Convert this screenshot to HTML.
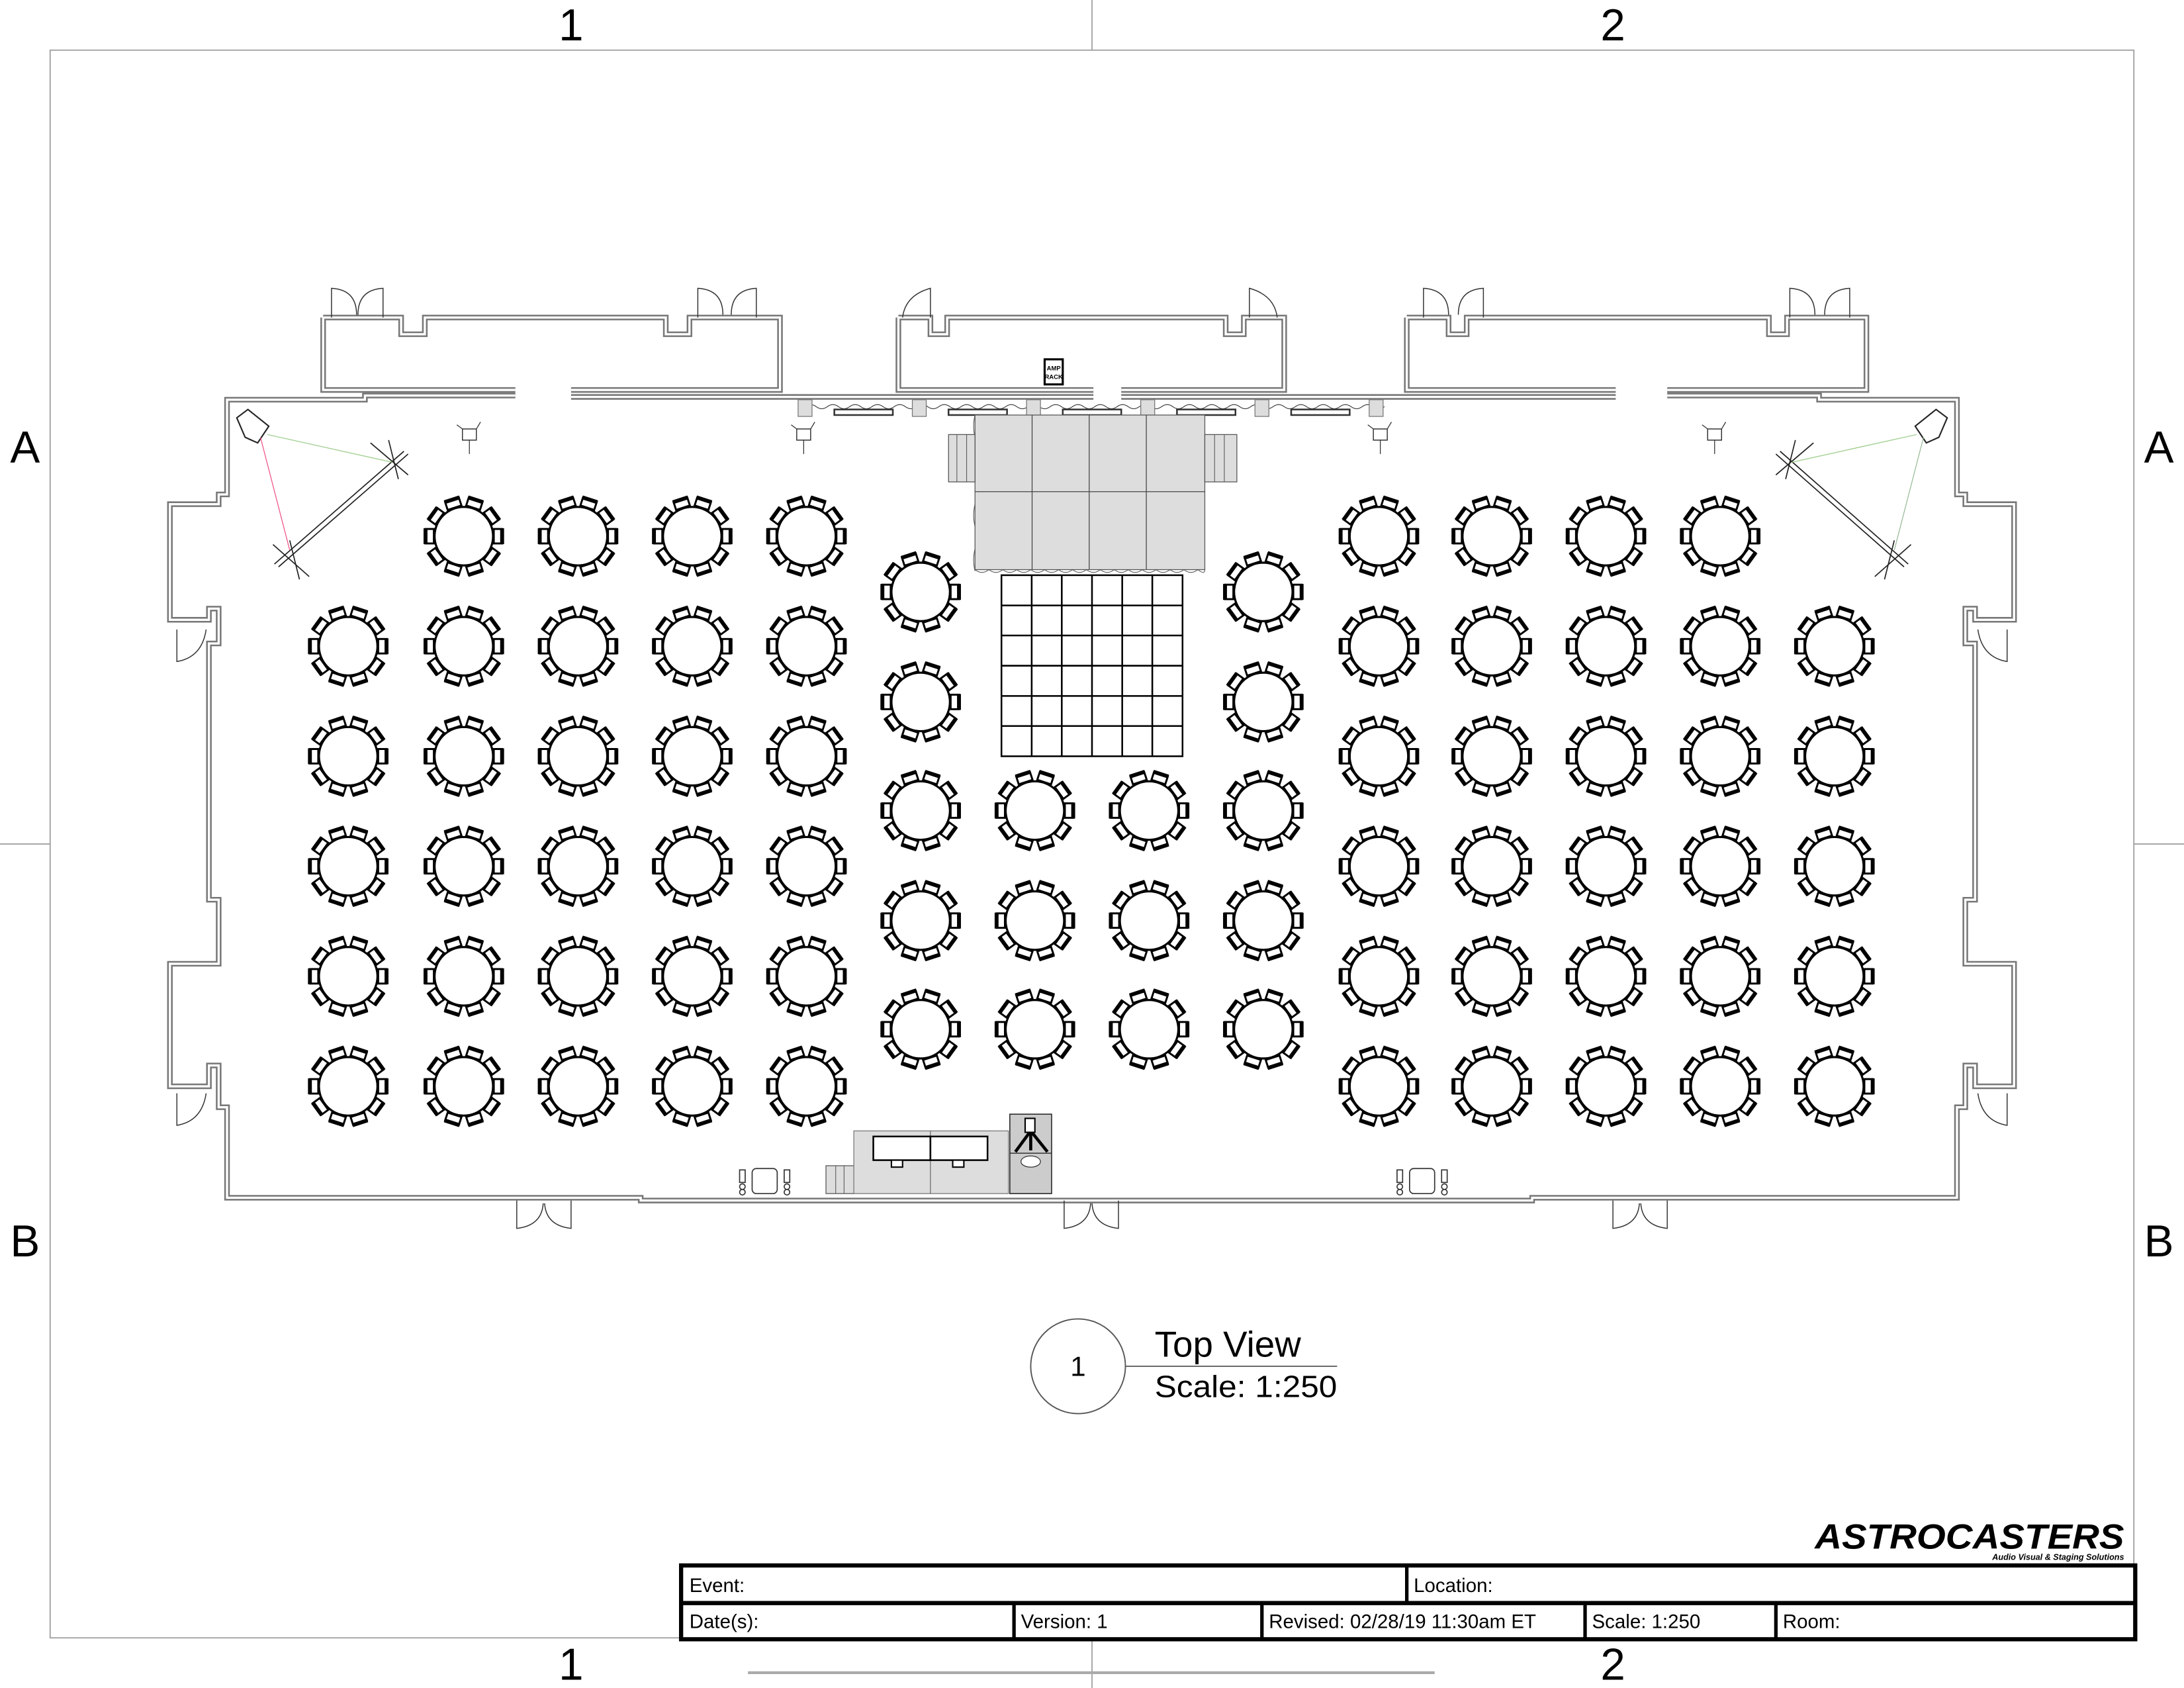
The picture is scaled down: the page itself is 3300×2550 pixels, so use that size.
<!DOCTYPE html>
<html><head><meta charset="utf-8"><style>
html,body{margin:0;padding:0;background:#fff}
svg{display:block}
text{font-family:"Liberation Sans",sans-serif}
</style></head><body>
<svg width="3300" height="2550" viewBox="0 0 1568 1212" preserveAspectRatio="none" xmlns="http://www.w3.org/2000/svg">
<defs>
<g id="ch"><rect x="21.5" y="-5.2" width="6" height="10.4" fill="#fff" stroke="#000" stroke-width="1.4"/><line x1="27.5" y1="-5.7" x2="27.5" y2="5.7" stroke="#000" stroke-width="2.8"/></g>
<g id="t">
<use href="#ch" transform="rotate(0)"/><use href="#ch" transform="rotate(36)"/><use href="#ch" transform="rotate(72)"/><use href="#ch" transform="rotate(108)"/><use href="#ch" transform="rotate(144)"/><use href="#ch" transform="rotate(180)"/><use href="#ch" transform="rotate(216)"/><use href="#ch" transform="rotate(252)"/><use href="#ch" transform="rotate(288)"/><use href="#ch" transform="rotate(324)"/>
<circle r="21" fill="#fff" stroke="#000" stroke-width="1.5"/>
</g>
<g id="light"><path d="M-5,-4 L5,-4 L5,4 L-5,4 Z" fill="#fff" stroke="#333" stroke-width="0.7"/><line x1="0" y1="4" x2="0" y2="14" stroke="#333" stroke-width="0.6"/><line x1="-5" y1="-4" x2="-9" y2="-7" stroke="#333" stroke-width="0.6"/><line x1="5" y1="-4" x2="8" y2="-9" stroke="#333" stroke-width="0.6"/></g>
</defs>

<rect x="36" y="36" width="1496" height="1140" fill="none" stroke="#999" stroke-width="0.8"/>
<g stroke="#999" stroke-width="0.8">
<line x1="784" y1="0" x2="784" y2="36"/><line x1="784" y1="1176" x2="784" y2="1212"/>
<line x1="0" y1="606" x2="36" y2="606"/><line x1="1532" y1="606" x2="1568" y2="606"/>
</g>
<line x1="537" y1="1201" x2="1030" y2="1201" stroke="#aaa" stroke-width="2"/>
<g font-size="32" text-anchor="middle" fill="#000">
<text x="410" y="29">1</text><text x="1158" y="29">2</text>
<text x="410" y="1206">1</text><text x="1158" y="1206">2</text>
<text x="18" y="332">A</text><text x="1550" y="332">A</text>
<text x="18" y="902">B</text><text x="1550" y="902">B</text>
</g>

<g fill="none" stroke-linejoin="miter">
<g stroke="#777" stroke-width="4">
<path d="M370,284 L262,284 L262,287 L163,287 L163,355 L157,355 L157,362 L122,362 L122,445 L150,445 L150,437 L157,437 L157,462 L150,462 L150,646 L157,646 L157,692 L122,692 L122,780 L150,780 L150,765 L157,765 L157,795 L163,795 L163,860 L460,860 L460,862 L1100,862 L1100,860 L1405,860 L1405,795 L1411,795 L1411,765 L1418,765 L1418,780 L1446,780 L1446,692 L1411,692 L1411,646 L1418,646 L1418,462 L1411,462 L1411,437 L1418,437 L1418,445 L1446,445 L1446,362 L1411,362 L1411,355 L1405,355 L1405,287 L1306,287 L1306,284 L1197,284"/>
<path d="M410,285 L785,285 M805,285 L1160,285"/>
<path d="M232,228 L288,228 L288,240 L305,240 L305,228 L478,228 L478,240 L495,240 L495,228 L560,228 L560,280 L410,280 M370,280 L232,280 L232,228"/>
<path d="M645,228 L668,228 L668,240 L680,240 L680,228 L880,228 L880,240 L893,240 L893,228 L922,228 L922,280 L805,280 M785,280 L645,280 L645,228"/>
<path d="M1010,228 L1040,228 L1040,240 L1053,240 L1053,228 L1270,228 L1270,240 L1283,240 L1283,228 L1340,228 L1340,280 L1197,280 M1160,280 L1010,280 L1010,228"/>
</g>
<g stroke="#fff" stroke-width="1.6">
<path d="M370,284 L262,284 L262,287 L163,287 L163,355 L157,355 L157,362 L122,362 L122,445 L150,445 L150,437 L157,437 L157,462 L150,462 L150,646 L157,646 L157,692 L122,692 L122,780 L150,780 L150,765 L157,765 L157,795 L163,795 L163,860 L460,860 L460,862 L1100,862 L1100,860 L1405,860 L1405,795 L1411,795 L1411,765 L1418,765 L1418,780 L1446,780 L1446,692 L1411,692 L1411,646 L1418,646 L1418,462 L1411,462 L1411,437 L1418,437 L1418,445 L1446,445 L1446,362 L1411,362 L1411,355 L1405,355 L1405,287 L1306,287 L1306,284 L1197,284"/>
<path d="M410,285 L785,285 M805,285 L1160,285"/>
<path d="M232,228 L288,228 L288,240 L305,240 L305,228 L478,228 L478,240 L495,240 L495,228 L560,228 L560,280 L410,280 M370,280 L232,280 L232,228"/>
<path d="M645,228 L668,228 L668,240 L680,240 L680,228 L880,228 L880,240 L893,240 L893,228 L922,228 L922,280 L805,280 M785,280 L645,280 L645,228"/>
<path d="M1010,228 L1040,228 L1040,240 L1053,240 L1053,228 L1270,228 L1270,240 L1283,240 L1283,228 L1340,228 L1340,280 L1197,280 M1160,280 L1010,280 L1010,228"/>
</g>
<g stroke="#333" stroke-width="0.7">
<path d="M238,228 L238,207 Q256,208 256,226 M275,228 L275,207 Q257,208 257,226"/>
<path d="M501,228 L501,207 Q519,208 519,226 M543,228 L543,207 Q525,208 525,226"/>
<path d="M668,228 L668,207 Q650,212 648,228"/>
<path d="M897,228 L897,207 Q915,212 917,228"/>
<path d="M1022,228 L1022,207 Q1040,208 1040,226 M1065,228 L1065,207 Q1047,208 1047,226"/>
<path d="M1285,228 L1285,207 Q1303,208 1303,226 M1328,228 L1328,207 Q1310,208 1310,226"/>
<path d="M127,452 L127,475 Q145,472 148,452"/>
<path d="M127,785 L127,808 Q145,805 148,785"/>
<path d="M1441,452 L1441,475 Q1423,472 1420,452"/>
<path d="M1441,785 L1441,808 Q1423,805 1420,785"/>
<path d="M371,862 L371,882 Q389,880 390,864 M410,862 L410,882 Q392,880 391,864"/>
<path d="M764,862 L764,882 Q782,880 783,864 M803,862 L803,882 Q785,880 784,864"/>
<path d="M1158,862 L1158,882 Q1176,880 1177,864 M1197,862 L1197,882 Q1179,880 1178,864"/>
</g>
</g>

<rect x="750" y="258" width="13" height="18" fill="#fff" stroke="#000" stroke-width="1.5"/>
<text x="756.5" y="266" font-size="4.5" text-anchor="middle" font-weight="bold">AMP</text>
<text x="756.5" y="272" font-size="4.5" text-anchor="middle" font-weight="bold">RACK</text>

<path d="M578,292 q4,-3 8,0 q4,3 8,0 q4,-3 8,0 q4,3 8,0 q4,-3 8,0 q4,3 8,0 q4,-3 8,0 q4,3 8,0 q4,-3 8,0 q4,3 8,0 q4,-3 8,0 q4,3 8,0 q4,-3 8,0 q4,3 8,0 q4,-3 8,0 q4,3 8,0 q4,-3 8,0 q4,3 8,0 q4,-3 8,0 q4,3 8,0 q4,-3 8,0 q4,3 8,0 q4,-3 8,0 q4,3 8,0 q4,-3 8,0 q4,3 8,0 q4,-3 8,0 q4,3 8,0 q4,-3 8,0 q4,3 8,0 q4,-3 8,0 q4,3 8,0 q4,-3 8,0 q4,3 8,0 q4,-3 8,0 q4,3 8,0 q4,-3 8,0 q4,3 8,0 q4,-3 8,0 q4,3 8,0 q4,-3 8,0 q4,3 8,0 q4,-3 8,0 q4,3 8,0 q4,-3 8,0 q4,3 8,0 q4,-3 8,0 q4,3 8,0 q4,-3 8,0 q4,3 8,0 q4,-3 8,0 q4,3 8,0" fill="none" stroke="#333" stroke-width="0.5"/>
<g fill="#ddd" stroke="#777" stroke-width="0.6">
<rect x="573" y="287" width="10" height="12"/><rect x="655" y="287" width="10" height="12"/><rect x="737" y="287" width="10" height="12"/><rect x="819" y="287" width="10" height="12"/><rect x="901" y="287" width="10" height="12"/><rect x="983" y="287" width="10" height="12"/>
</g>
<g fill="#fff" stroke="#333" stroke-width="1.2">
<rect x="599" y="294" width="42" height="4"/><rect x="681" y="294" width="42" height="4"/><rect x="763" y="294" width="42" height="4"/><rect x="845" y="294" width="42" height="4"/><rect x="927" y="294" width="42" height="4"/>
</g>

<path d="M700,298 q-2,8 0,16 q2,8 0,16 q-2,8 0,16 q2,8 0,16 q-2,8 0,16 q2,8 0,16 q-2,8 0,16" fill="none" stroke="#555" stroke-width="0.5"/>
<rect x="700" y="298" width="165" height="111" fill="#ddd" stroke="#555" stroke-width="0.6"/>
<g stroke="#444" stroke-width="0.6"><line x1="741" y1="298" x2="741" y2="409"/><line x1="782" y1="298" x2="782" y2="409"/><line x1="823" y1="298" x2="823" y2="409"/><line x1="700" y1="353" x2="865" y2="353"/></g>
<path d="M700,409 q5,4 10,0 q5,4 10,0 q5,4 10,0 q5,4 10,0 q5,4 10,0 q5,4 10,0 q5,4 10,0 q5,4 10,0 q5,4 10,0 q5,4 10,0 q5,4 10,0 q5,4 10,0 q5,4 10,0 q5,4 10,0 q5,4 10,0 q5,4 10,0 q5,4 5,0" fill="none" stroke="#555" stroke-width="0.5"/>
<g fill="#ddd" stroke="#555" stroke-width="0.6">
<rect x="681" y="312" width="19" height="34"/><rect x="865" y="312" width="23" height="34"/>
</g>
<g stroke="#555" stroke-width="0.5"><line x1="687" y1="312" x2="687" y2="346"/><line x1="694" y1="312" x2="694" y2="346"/><line x1="872" y1="312" x2="872" y2="346"/><line x1="879" y1="312" x2="879" y2="346"/></g>

<g fill="none" stroke="#000" stroke-width="1.2">
<rect x="719" y="413" width="130" height="130"/>
<path d="M740.7,413V543M762.3,413V543M784,413V543M805.7,413V543M827.3,413V543M719,434.7H849M719,456.3H849M719,478H849M719,499.7H849M719,521.3H849"/>
</g>

<g stroke="#222" stroke-width="0.8" fill="none">
<line x1="197" y1="405" x2="290" y2="324"/><line x1="200" y1="407" x2="293" y2="326"/>
<line x1="196" y1="391" x2="222" y2="414"/><line x1="208" y1="388" x2="215" y2="416"/>
<line x1="266" y1="318" x2="293" y2="341"/><line x1="279" y1="316" x2="286" y2="344"/>
<line x1="1278" y1="324" x2="1370" y2="405"/><line x1="1275" y1="326" x2="1367" y2="407"/>
<line x1="1372" y1="391" x2="1346" y2="414"/><line x1="1360" y1="388" x2="1353" y2="416"/>
<line x1="1302" y1="318" x2="1275" y2="341"/><line x1="1289" y1="316" x2="1282" y2="344"/>
<path d="M170,300 L178,294 L193,306 L185,318 L176,314 Z" stroke-width="1"/>
<path d="M1398,300 L1390,294 L1375,306 L1383,318 L1392,314 Z" stroke-width="1"/>
</g>
<line x1="187" y1="314" x2="208" y2="395" stroke="#e58" stroke-width="0.6"/>
<line x1="192" y1="312" x2="282" y2="332" stroke="#9c8" stroke-width="0.6"/>
<line x1="1381" y1="314" x2="1360" y2="395" stroke="#9b9" stroke-width="0.6"/>
<line x1="1376" y1="312" x2="1286" y2="332" stroke="#9c8" stroke-width="0.6"/>
<use href="#light" x="337" y="312"/><use href="#light" x="577" y="312"/><use href="#light" x="991" y="312"/><use href="#light" x="1231" y="312"/>

<g>
<use href="#t" x="333" y="385"/><use href="#t" x="415" y="385"/><use href="#t" x="497" y="385"/><use href="#t" x="579" y="385"/>
<use href="#t" x="250" y="464"/><use href="#t" x="333" y="464"/><use href="#t" x="415" y="464"/><use href="#t" x="497" y="464"/><use href="#t" x="579" y="464"/>
<use href="#t" x="250" y="543"/><use href="#t" x="333" y="543"/><use href="#t" x="415" y="543"/><use href="#t" x="497" y="543"/><use href="#t" x="579" y="543"/>
<use href="#t" x="250" y="622"/><use href="#t" x="333" y="622"/><use href="#t" x="415" y="622"/><use href="#t" x="497" y="622"/><use href="#t" x="579" y="622"/>
<use href="#t" x="250" y="701"/><use href="#t" x="333" y="701"/><use href="#t" x="415" y="701"/><use href="#t" x="497" y="701"/><use href="#t" x="579" y="701"/>
<use href="#t" x="250" y="780"/><use href="#t" x="333" y="780"/><use href="#t" x="415" y="780"/><use href="#t" x="497" y="780"/><use href="#t" x="579" y="780"/>

<use href="#t" x="661" y="425"/><use href="#t" x="907" y="425"/>
<use href="#t" x="661" y="504"/><use href="#t" x="907" y="504"/>
<use href="#t" x="661" y="582"/><use href="#t" x="743" y="582"/><use href="#t" x="825" y="582"/><use href="#t" x="907" y="582"/>
<use href="#t" x="661" y="661"/><use href="#t" x="743" y="661"/><use href="#t" x="825" y="661"/><use href="#t" x="907" y="661"/>
<use href="#t" x="661" y="739"/><use href="#t" x="743" y="739"/><use href="#t" x="825" y="739"/><use href="#t" x="907" y="739"/>

<use href="#t" x="990" y="385"/><use href="#t" x="1071" y="385"/><use href="#t" x="1153" y="385"/><use href="#t" x="1235" y="385"/>
<use href="#t" x="990" y="464"/><use href="#t" x="1071" y="464"/><use href="#t" x="1153" y="464"/><use href="#t" x="1235" y="464"/><use href="#t" x="1317" y="464"/>
<use href="#t" x="990" y="543"/><use href="#t" x="1071" y="543"/><use href="#t" x="1153" y="543"/><use href="#t" x="1235" y="543"/><use href="#t" x="1317" y="543"/>
<use href="#t" x="990" y="622"/><use href="#t" x="1071" y="622"/><use href="#t" x="1153" y="622"/><use href="#t" x="1235" y="622"/><use href="#t" x="1317" y="622"/>
<use href="#t" x="990" y="701"/><use href="#t" x="1071" y="701"/><use href="#t" x="1153" y="701"/><use href="#t" x="1235" y="701"/><use href="#t" x="1317" y="701"/>
<use href="#t" x="990" y="780"/><use href="#t" x="1071" y="780"/><use href="#t" x="1153" y="780"/><use href="#t" x="1235" y="780"/><use href="#t" x="1317" y="780"/>
</g>

<rect x="593" y="837" width="20" height="20" fill="#ddd" stroke="#555" stroke-width="0.6"/>
<g stroke="#555" stroke-width="0.5"><line x1="600" y1="837" x2="600" y2="857"/><line x1="606" y1="837" x2="606" y2="857"/></g>
<rect x="613" y="812" width="111" height="45" fill="#ddd" stroke="#777" stroke-width="0.6"/>
<line x1="668" y1="812" x2="668" y2="857" stroke="#555" stroke-width="0.5"/>
<rect x="627" y="816" width="41" height="17" fill="#fff" stroke="#000" stroke-width="1.2"/>
<rect x="668" y="816" width="41" height="17" fill="#fff" stroke="#000" stroke-width="1.2"/>
<rect x="640" y="833" width="8" height="5" fill="#fff" stroke="#000" stroke-width="1"/>
<rect x="684" y="833" width="8" height="5" fill="#fff" stroke="#000" stroke-width="1"/>
<rect x="725" y="800" width="30" height="57" fill="#ccc" stroke="#333" stroke-width="0.8"/>
<line x1="725" y1="828" x2="755" y2="828" stroke="#333" stroke-width="0.7"/>
<path d="M740,804 L740,820 M740,812 L729,827 M740,812 L752,827 M740,812 L740,826" stroke="#000" stroke-width="2.2" fill="none"/>
<rect x="736" y="803" width="7" height="10" fill="#fff" stroke="#000" stroke-width="1"/>
<ellipse cx="740" cy="834" rx="7" ry="4" fill="#fff" stroke="#333" stroke-width="0.6"/>
<g stroke="#333" stroke-width="0.8" fill="#fff">
<rect x="540" y="839" width="18" height="18" rx="3"/><rect x="1012" y="839" width="18" height="18" rx="3"/>
<rect x="531" y="840" width="4" height="9"/><rect x="563" y="840" width="4" height="9"/>
<rect x="1003" y="840" width="4" height="9"/><rect x="1035" y="840" width="4" height="9"/>
<circle cx="533" cy="852" r="2"/><circle cx="533" cy="856" r="2"/><circle cx="565" cy="852" r="2"/><circle cx="565" cy="856" r="2"/>
<circle cx="1005" cy="852" r="2"/><circle cx="1005" cy="856" r="2"/><circle cx="1037" cy="852" r="2"/><circle cx="1037" cy="856" r="2"/>
</g>

<circle cx="774" cy="981" r="34" fill="none" stroke="#555" stroke-width="0.9"/>
<text x="774" y="988" font-size="20" text-anchor="middle">1</text>
<line x1="808" y1="981" x2="960" y2="981" stroke="#555" stroke-width="0.8"/>
<text x="829" y="974" font-size="26">Top View</text>
<text x="829" y="1003" font-size="22" textLength="131" lengthAdjust="spacingAndGlyphs">Scale: 1:250</text>

<text x="1525" y="1112" font-size="25" font-weight="bold" font-style="italic" text-anchor="end" textLength="222" lengthAdjust="spacingAndGlyphs">ASTROCASTERS</text>
<text x="1525" y="1120" font-size="6" font-weight="bold" font-style="italic" text-anchor="end">Audio Visual &amp; Staging Solutions</text>

<g fill="none" stroke="#000">
<rect x="489" y="1124" width="1044" height="53" stroke-width="3"/>
<line x1="489" y1="1151" x2="1533" y2="1151" stroke-width="3"/>
<line x1="1010" y1="1124" x2="1010" y2="1151" stroke-width="2.5"/>
<line x1="728" y1="1151" x2="728" y2="1177" stroke-width="2.5"/>
<line x1="906" y1="1151" x2="906" y2="1177" stroke-width="2.5"/>
<line x1="1138" y1="1151" x2="1138" y2="1177" stroke-width="2.5"/>
<line x1="1275" y1="1151" x2="1275" y2="1177" stroke-width="2.5"/>
</g>
<g font-size="14">
<text x="495" y="1143">Event:</text><text x="1015" y="1143">Location:</text>
<text x="495" y="1169">Date(s):</text><text x="733" y="1169">Version: 1</text>
<text x="911" y="1169">Revised: 02/28/19 11:30am ET</text><text x="1143" y="1169">Scale:  1:250</text>
<text x="1280" y="1169">Room:</text>
</g>
</svg>
</body></html>
